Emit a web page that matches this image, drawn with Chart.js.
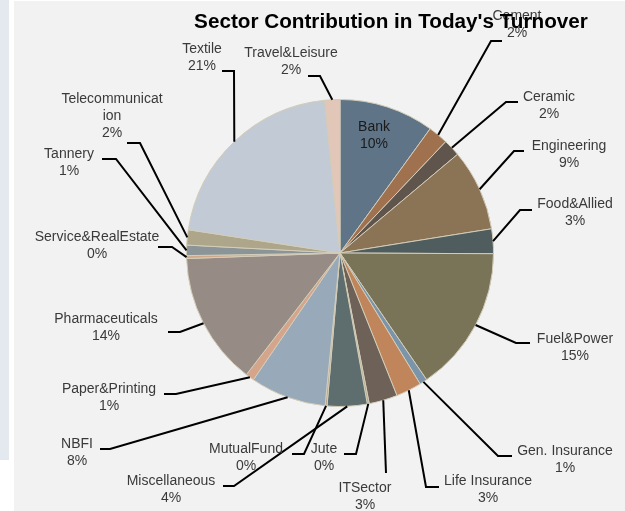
<!DOCTYPE html>
<html>
<head>
<meta charset="utf-8">
<script src="https://cdn.jsdelivr.net/npm/chart.js@4.4.0/dist/chart.umd.min.js"></script>
<style>
html, body { margin: 0; padding: 0; background: #fff; }
#wrap { width: 625px; height: 511px; }
</style>
</head>
<body>
<div id="wrap"><canvas id="canvas" width="625" height="511"></canvas></div>
<script>
var titleText = "Sector Contribution in Today's Turnover";

var sectors = ['Bank', 'Cement', 'Ceramic', 'Engineering', 'Food&Allied', 'Fuel&Power',
    'Gen. Insurance', 'Life Insurance', 'ITSector', 'Jute', 'Miscellaneous', 'MutualFund',
    'NBFI', 'Paper&Printing', 'Pharmaceuticals', 'Service&RealEstate', 'Tannery',
    'Telecommunication', 'Textile', 'Travel&Leisure'];

// share of turnover, %
var turnover = [10.0, 2.1, 1.8, 8.6, 2.6, 15.4,
    0.8, 2.7, 3.0, 0.2, 4.2, 0.2,
    8.0, 0.9, 14.0, 0.3, 1.1,
    1.6, 21.0, 1.6];

var sliceColors = ['#5f7487', '#a0714f', '#5f554d', '#8b7355', '#4f5d5e', '#797457',
    '#7a94aa', '#c0855b', '#6e6157', '#b0a486', '#5e6e6e', '#b0a486',
    '#98a9b9', '#d4a58a', '#978c85', '#cfa88a', '#8b9598',
    '#aea68a', '#c2cad5', '#e2c6b8'];

// where each label sits, relative to the pie centre:
// text = centre of the text block, elbow = bend of the leader line, end = x where the leader stops
var labelSpots = [
    { text: [34, -117.5], inside: true },
    { text: [177, -228.5], elbow: [151, -212], end: 162 },
    { text: [209, -147], elbow: [166, -151], end: 178 },
    { text: [229, -98.5], elbow: [174, -102], end: 184 },
    { text: [235, -40], elbow: [180, -43], end: 192 },
    { text: [235, 94.5], elbow: [176, 90], end: 190 },
    { text: [225, 206.5], elbow: [158, 203], end: 172 },
    { text: [148, 236.5], elbow: [86, 234], end: 99 },
    { text: [25, 243.5], elbow: [46, 220], end: 46 },
    { text: [-16, 204.5], elbow: [16, 201], end: 4 },
    { text: [-169, 236.5], elbow: [-106, 233], end: -117 },
    { text: [-94, 204.5], elbow: [-36, 201], end: -48 },
    { text: [-263, 199.5], elbow: [-230, 196], end: -240 },
    { text: [-231, 144.5], elbow: [-164, 141], end: -176 },
    { text: [-234, 74.5], elbow: [-160, 79], end: -172 },
    { text: [-243, -7.5], elbow: [-168, -6], end: -182 },
    { text: [-271, -90], elbow: [-224, -94], end: -238 },
    { text: [-228, -137], elbow: [-200, -110], end: -213, lines: ['Telecommunicat', 'ion'] },
    { text: [-138, -195.5], elbow: [-106, -182], end: -118 },
    { text: [-49, -191], elbow: [-20, -177], end: -32 }
];

var pieLabels = {
    id: 'pieLabels',
    beforeDraw: function(chart) {
        var ctx = chart.ctx;
        ctx.save();
        ctx.fillStyle = '#ffffff';
        ctx.fillRect(0, 0, chart.width, chart.height);
        ctx.fillStyle = '#e3e9ef';
        ctx.fillRect(0, 0, 9, 460);
        ctx.fillStyle = '#f2f2f2';
        ctx.fillRect(14, 1, chart.width - 14, chart.height - 1);
        ctx.restore();
    },
    afterDraw: function(chart) {
        var ctx = chart.ctx;
        var meta = chart.getDatasetMeta(0);
        var total = turnover.reduce(function(a, b) { return a + b; }, 0);
        ctx.save();

        // leader lines
        ctx.strokeStyle = '#000000';
        ctx.lineWidth = 2;
        meta.data.forEach(function(arc, i) {
            var spot = labelSpots[i];
            if (!spot.elbow) return;
            var p = arc.getProps(['x', 'y', 'startAngle', 'endAngle', 'outerRadius'], true);
            var mid = (p.startAngle + p.endAngle) / 2;
            ctx.beginPath();
            ctx.moveTo(p.x + Math.cos(mid) * p.outerRadius, p.y + Math.sin(mid) * p.outerRadius);
            ctx.lineTo(p.x + spot.elbow[0], p.y + spot.elbow[1]);
            ctx.lineTo(p.x + spot.end, p.y + spot.elbow[1]);
            ctx.stroke();
        });

        // label text
        ctx.font = '14px "Liberation Sans", Arial, sans-serif';
        ctx.textAlign = 'center';
        ctx.textBaseline = 'middle';
        var lh = 17;
        meta.data.forEach(function(arc, i) {
            var spot = labelSpots[i];
            var p = arc.getProps(['x', 'y'], true);
            var pct = Math.round(turnover[i] / total * 100) + '%';
            var lines = (spot.lines || [sectors[i]]).concat([pct]);
            var y0 = p.y + spot.text[1] - (lines.length - 1) * lh / 2;
            ctx.fillStyle = spot.inside ? '#1a1a1a' : '#3a3a3a';
            lines.forEach(function(t, k) {
                ctx.fillText(t, p.x + spot.text[0], y0 + k * lh);
            });
        });

        // title
        ctx.font = 'bold 20.7px "Liberation Sans", Arial, sans-serif';
        ctx.fillStyle = '#000000';
        ctx.textBaseline = 'alphabetic';
        ctx.fillText(titleText, 391, 28);
        ctx.restore();
    }
};

var config = {
    type: 'pie',
    data: {
        labels: sectors,
        datasets: [{
            data: turnover,
            backgroundColor: sliceColors,
            borderColor: '#d3cdb9',
            borderWidth: 1
        }]
    },
    options: {
        responsive: false,
        animation: false,
        layout: {
            padding: { left: 186, right: 131, top: 99, bottom: 104 }
        },
        plugins: {
            legend: { display: false },
            tooltip: { enabled: false },
            title: { display: false }
        }
    },
    plugins: [pieLabels]
};

window.addEventListener('load', function() {
    var ctx = document.getElementById('canvas').getContext('2d');
    window.PieChart = new Chart(ctx, config);
});
</script>
</body>
</html>
